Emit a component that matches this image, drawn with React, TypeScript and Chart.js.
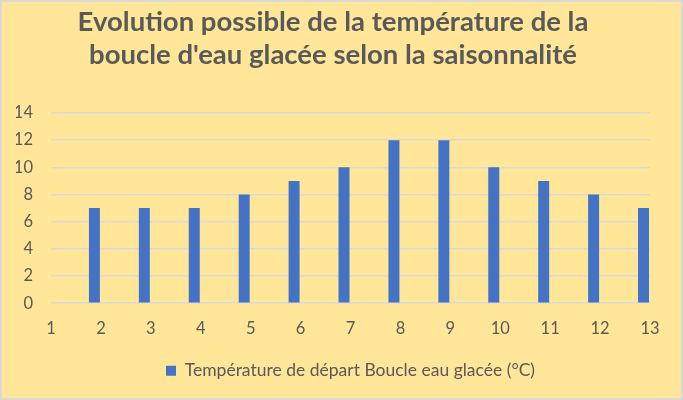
import React, { useEffect, useRef } from "react";
import { Chart, registerables } from "chart.js";

Chart.register(...registerables);

const categories = ["1", "2", "3", "4", "5", "6", "7", "8", "9", "10", "11", "12", "13"];
const temperatures = [null, 7, 7, 7, 8, 9, 10, 12, 12, 10, 9, 8, 7];
const titleLines = [
  "Evolution possible de la température de la",
  "boucle d'eau glacée selon la saisonnalité",
];
const seriesLabel = "Température de départ Boucle eau glacée (°C)";

export default function App() {
  const ref = useRef<HTMLCanvasElement | null>(null);

  useEffect(() => {
    document.body.style.margin = "0";
    const ctx = ref.current!.getContext("2d")!;
    const chart = new Chart(ctx, {
      type: "bar",
      data: {
        labels: categories,
        datasets: [
          {
            label: seriesLabel,
            data: temperatures,
            backgroundColor: "#4472C4",
            categoryPercentage: 0.52,
            barPercentage: 0.846,
          },
          {
            label: "",
            data: categories.map(() => null),
            backgroundColor: "rgba(0,0,0,0)",
            categoryPercentage: 0.52,
            barPercentage: 0.846,
          },
        ],
      },
      options: {
        animation: false,
        responsive: false,
        maintainAspectRatio: false,
        layout: { padding: { left: 14, right: 31, top: 0, bottom: 8.5 } },
        plugins: {
          title: {
            display: true,
            text: titleLines,
            color: "#595959",
            font: { family: "Lato", size: 27.5, weight: "bold", lineHeight: 1.2 },
            padding: { top: 4, bottom: 41 },
          },
          legend: {
            position: "bottom",
            fullSize: false,
            labels: {
              color: "#595959",
              font: { family: "Lato", size: 17.5 },
              boxWidth: 10,
              boxHeight: 10,
              padding: 7,
              filter: (item: any) => item.text !== "",
            },
          },
          tooltip: { enabled: false },
        },
        scales: {
          x: {
            offset: false,
            grid: { display: false, drawTicks: false },
            border: { display: false },
            ticks: {
              color: "#595959",
              font: { family: "Lato", size: 16.5 },
              padding: 16,
              maxRotation: 0,
              autoSkip: false,
            },
          },
          y: {
            min: 0,
            max: 14,
            ticks: {
              stepSize: 2,
              color: "#595959",
              font: { family: "Lato", size: 16.5 },
              padding: 18,
            },
            grid: { color: "#D9D9D9", lineWidth: 1.5, drawTicks: false },
            border: { display: false },
            afterFit: (scale: any) => {
              scale.width = 35;
            },
          },
        },
      },
    });
    return () => chart.destroy();
  }, []);

  return (
    <div style={{ position: "absolute", left: 0, top: 0, width: 683, height: 400, background: "#D9D9D9" }}>
      <div style={{ position: "absolute", left: 2, top: 2, width: 679, height: 396, background: "#FFE699" }}>
        <canvas ref={ref} width={679} height={396} style={{ display: "block" }} />
      </div>
    </div>
  );
}
